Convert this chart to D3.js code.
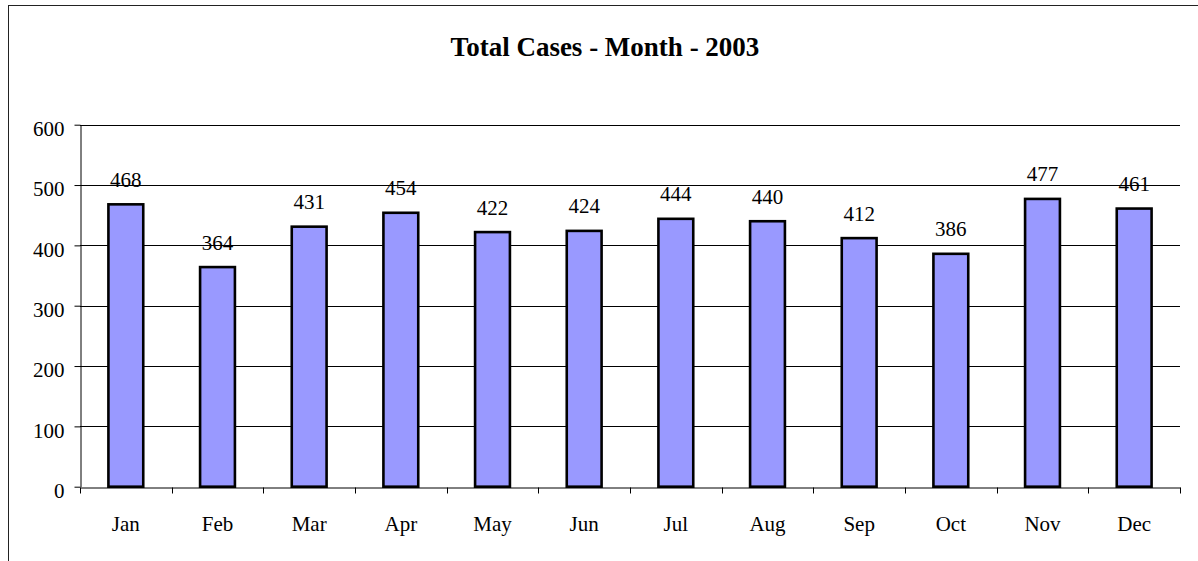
<!DOCTYPE html>
<html>
<head>
<meta charset="utf-8">
<script src="https://cdn.jsdelivr.net/npm/d3@7"></script>
<style>
  body { margin: 0; background: #fff; }
  text { font-family: "Liberation Serif", "Times New Roman", serif; fill: #000; }
</style>
</head>
<body>
<svg id="chart" width="1198" height="561"></svg>
<script>
// data
var months = ["Jan", "Feb", "Mar", "Apr", "May", "Jun", "Jul", "Aug", "Sep", "Oct", "Nov", "Dec"];
var cases = [468, 364, 431, 454, 422, 424, 444, 440, 412, 386, 477, 461];
var yTicks = [0, 100, 200, 300, 400, 500, 600];
var title = "Total Cases - Month - 2003";

function drawChart() {
  var svg = d3.select("#chart");

  var left = 80, right = 1180, top = 124.7, bottom = 486.7;

  // outer frame (runs off the window at right and bottom)
  svg.append("rect")
    .attr("x", 8.5).attr("y", 5.5)
    .attr("width", 1220).attr("height", 600)
    .attr("fill", "none")
    .attr("stroke", "#222")
    .attr("stroke-width", 1);

  var x = d3.scaleBand()
    .domain(months)
    .range([left, right])
    .padding(0);

  var y = d3.scaleLinear()
    .domain([0, 600])
    .range([bottom, top]);

  // gridlines
  svg.append("g")
    .selectAll("line")
    .data(yTicks.filter(function(d) { return d > 0; }))
    .enter()
    .append("line")
      .attr("x1", left).attr("x2", right)
      .attr("y1", function(d) { return Math.round(y(d)) + 0.5; })
      .attr("y2", function(d) { return Math.round(y(d)) + 0.5; })
      .attr("stroke", "#000")
      .attr("stroke-width", 1);

  // bars
  var barW = x.bandwidth() * 0.38;
  svg.append("g")
    .selectAll("rect")
    .data(cases)
    .enter()
    .append("rect")
      .attr("x", function(d, i) { return x(months[i]) + x.bandwidth() / 2 - barW / 2; })
      .attr("y", function(d) { return y(d); })
      .attr("width", barW)
      .attr("height", function(d) { return bottom - y(d); })
      .attr("fill", "#9999ff")
      .attr("stroke", "#000")
      .attr("stroke-width", 2.6);

  // value labels
  svg.append("g")
    .selectAll("text")
    .data(cases)
    .enter()
    .append("text")
      .attr("x", function(d, i) { return x(months[i]) + x.bandwidth() / 2; })
      .attr("y", function(d) { return y(d) - 17.5; })
      .attr("text-anchor", "middle")
      .style("font-size", "21px")
      .style("font-family", "'Liberation Serif', serif")
      .text(function(d) { return d; });

  // y axis
  var yAxis = svg.append("g")
    .attr("transform", "translate(" + (left + 0.5) + ",0)")
    .call(d3.axisLeft(y).tickValues(yTicks).tickSize(6).tickPadding(10).tickSizeOuter(0));
  yAxis.select(".domain").attr("stroke", "#000");
  yAxis.selectAll(".tick line").attr("stroke", "#000");
  yAxis.selectAll(".tick text")
    .attr("dy", "0.52em")
    .style("font-size", "21px")
    .style("font-family", "'Liberation Serif', serif")
    .attr("fill", "#000");

  // x axis
  var xAxis = svg.append("g")
    .attr("transform", "translate(0," + (Math.round(bottom) + 0.5) + ")")
    .call(d3.axisBottom(x).tickSize(0).tickPadding(0).tickSizeOuter(0));
  xAxis.select(".domain").attr("stroke", "#000").attr("stroke-width", 1);
  xAxis.selectAll(".tick text")
    .attr("y", 43)
    .attr("dy", 0)
    .style("font-size", "21px")
    .style("font-family", "'Liberation Serif', serif")
    .attr("fill", "#000");

  // tick marks between categories
  var bounds = months.map(function(m) { return x(m); }).concat([right]);
  xAxis.append("g")
    .selectAll("line")
    .data(bounds)
    .enter()
    .append("line")
      .attr("x1", function(d) { return Math.round(d) + 0.5; })
      .attr("x2", function(d) { return Math.round(d) + 0.5; })
      .attr("y1", 0).attr("y2", 6)
      .attr("stroke", "#000");

  // title
  svg.append("text")
    .attr("x", 605)
    .attr("y", 56)
    .attr("text-anchor", "middle")
    .style("font-size", "27px")
    .style("font-weight", "bold")
    .text(title);
}

drawChart();
</script>
</body>
</html>
